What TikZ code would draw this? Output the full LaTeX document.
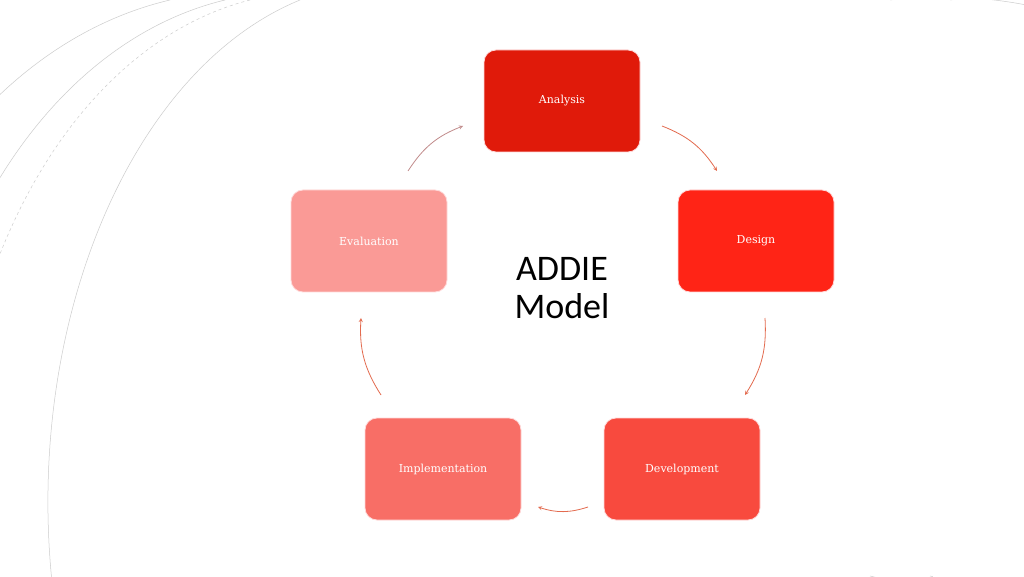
\documentclass[tikz,border=0pt]{standalone}
\usepackage{fontspec}
\setmainfont{DejaVu Serif}
\newfontfamily\carlito{Carlito}
\begin{document}
\begin{tikzpicture}[x=1pt,y=1pt,
  stage/.style={rounded corners=12pt,draw=white!85!red,line width=0.8pt,minimum width=156pt,minimum height=102pt,text=white,font=\fontsize{11}{13}\selectfont},
  arr/.style={->,>=stealth,draw=red!45!brown!80,line width=0.8pt,bend left=18},
  deco/.style={draw=gray!40,line width=0.5pt}]
\useasboundingbox (0,0) rectangle (1024,576);
\fill[white] (0,0) rectangle (1024,576);
\begin{scope}
\clip (0,0) rectangle (1024,576);
\draw[deco] (170,576) arc[start angle=100,end angle=260,x radius=420,y radius=560];
\draw[deco] (225,576) arc[start angle=100,end angle=250,x radius=380,y radius=520];
\draw[deco,dashed] (250,576) arc[start angle=100,end angle=250,x radius=360,y radius=520];
\draw[deco] (300,576) arc[start angle=105,end angle=245,x radius=340,y radius=520];
\draw[deco] (890,576) arc[start angle=100,end angle=60,x radius=300,y radius=200];
\draw[deco,dashed] (950,576) arc[start angle=100,end angle=70,x radius=300,y radius=200];
\draw[deco] (870,0) arc[start angle=250,end angle=300,x radius=300,y radius=200];
\draw[deco,dashed] (930,0) arc[start angle=250,end angle=290,x radius=300,y radius=200];
\end{scope}
\definecolor{cA}{HTML}{E01A0A}\definecolor{cD}{HTML}{FF2416}
\definecolor{cV}{HTML}{F84A3E}\definecolor{cI}{HTML}{F86E66}\definecolor{cE}{HTML}{FA9A96}
\node[stage,fill=cA] (a) at (562,475) {Analysis};
\node[stage,fill=cD] (d) at (756,335) {Design};
\node[stage,fill=cV] (v) at (682,107) {Development};
\node[stage,fill=cI] (i) at (443,107) {Implementation};
\node[stage,fill=cE] (e) at (369,335) {Evaluation};
\node[font=\carlito\fontsize{36}{38}\selectfont,align=center] (t) at (562,288) {ADDIE\\Model};
\coordinate (a1) at (662,450); \coordinate (a2) at (717,405);
\coordinate (d1) at (765,258); \coordinate (d2) at (745,181);
\coordinate (v1) at (588,69); \coordinate (v2) at (538,69);
\coordinate (i1) at (381,181); \coordinate (i2) at (361,258);
\coordinate (e1) at (408,405); \coordinate (e2) at (463,450);
\draw[arr] (a1) to (a2);
\draw[arr] (d1) to (d2);
\draw[arr] (v1) to (v2);
\draw[arr] (i1) to (i2);
\draw[arr,draw=red!30!gray!70] (e1) to (e2);
\end{tikzpicture}
\end{document}
